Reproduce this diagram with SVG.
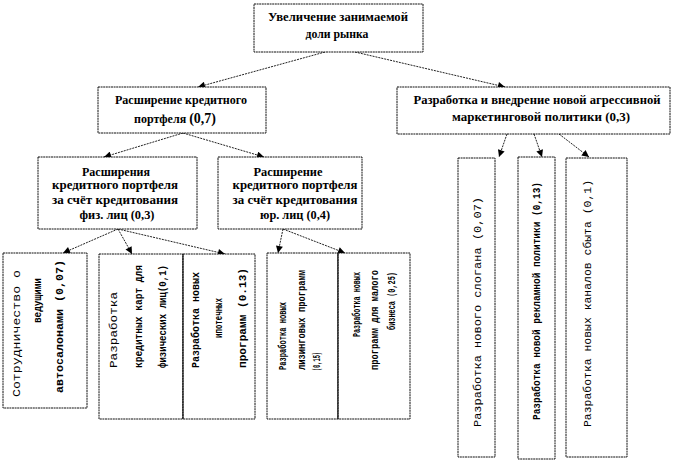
<svg xmlns="http://www.w3.org/2000/svg" width="678" height="461" viewBox="0 0 678 461">
<defs>
<marker id="arr" viewBox="0 0 10 10" refX="10" refY="5" markerWidth="8" markerHeight="7" markerUnits="userSpaceOnUse" orient="auto">
<path d="M0,0 L10,5 L0,10 z" fill="#000"/>
</marker>
</defs>
<style>
.box{fill:#fff;stroke:#111;stroke-width:1;stroke-dasharray:2 0.6}
.div{stroke:#111;stroke-width:1}
.hd{font-family:"Liberation Serif","Times New Roman",serif;font-weight:bold;font-size:12px;fill:#000;text-anchor:middle}
.mn{font-family:"Liberation Mono","Courier New",monospace;font-size:11px;fill:#000}
.con{stroke:#222;stroke-width:1;stroke-dasharray:2 1;fill:none;marker-end:url(#arr)}
</style>
<rect width="678" height="461" fill="#fff"/>

<g id="connectors">
<line class="con" x1="325" y1="52" x2="198" y2="87"/>
<line class="con" x1="355" y1="52" x2="505" y2="87"/>
<line class="con" x1="183" y1="133" x2="104" y2="157"/>
<line class="con" x1="183" y1="133" x2="264" y2="157"/>
<line class="con" x1="118" y1="229" x2="63" y2="253"/>
<line class="con" x1="118" y1="229" x2="132" y2="254"/>
<line class="con" x1="118" y1="229" x2="225" y2="254"/>
<line class="con" x1="283" y1="229" x2="278" y2="253"/>
<line class="con" x1="283" y1="229" x2="345" y2="253"/>
<line class="con" x1="507" y1="134" x2="499" y2="157"/>
<line class="con" x1="534" y1="134" x2="542" y2="157"/>
<line class="con" x1="559" y1="134" x2="589" y2="157"/>
</g>

<g id="n-top">
<rect class="box" x="254" y="4" width="169" height="48"/>
<text class="hd" x="338" y="21" textLength="140" lengthAdjust="spacingAndGlyphs">Увеличение занимаемой</text>
<text class="hd" x="337" y="38" textLength="63" lengthAdjust="spacingAndGlyphs">доли рынка</text>
</g>

<g id="n-credit">
<rect class="box" x="98" y="87" width="168" height="46"/>
<text class="hd" x="181" y="104" textLength="132" lengthAdjust="spacingAndGlyphs">Расширение кредитного</text>
<text class="hd" x="175" y="123">портфеля <tspan font-size="14">(0,7)</tspan></text>
</g>

<g id="n-marketing">
<rect class="box" x="397" y="87" width="273" height="47"/>
<text class="hd" x="537" y="104" textLength="247" lengthAdjust="spacingAndGlyphs">Разработка и внедрение новой агрессивной</text>
<text class="hd" x="541" y="121" textLength="178" lengthAdjust="spacingAndGlyphs">маркетинговой политики  (0,3)</text>
</g>

<g id="n-phys">
<rect class="box" x="38" y="157" width="159" height="72"/>
<text class="hd" x="116" y="176" textLength="68" lengthAdjust="spacingAndGlyphs">Расширения</text>
<text class="hd" x="115" y="189" textLength="126" lengthAdjust="spacingAndGlyphs">кредитного портфеля</text>
<text class="hd" x="115" y="204" textLength="126" lengthAdjust="spacingAndGlyphs">за счёт кредитования</text>
<text class="hd" x="117" y="219" textLength="75" lengthAdjust="spacingAndGlyphs">физ. лиц (0,3)</text>
</g>

<g id="n-jur">
<rect class="box" x="218" y="157" width="144" height="72"/>
<text class="hd" x="288" y="176" textLength="69" lengthAdjust="spacingAndGlyphs">Расширение</text>
<text class="hd" x="295" y="189" textLength="125" lengthAdjust="spacingAndGlyphs">кредитного портфеля</text>
<text class="hd" x="295" y="204" textLength="125" lengthAdjust="spacingAndGlyphs">за счёт кредитования</text>
<text class="hd" x="295" y="219" textLength="70" lengthAdjust="spacingAndGlyphs">юр. лиц (0,4)</text>
</g>

<g id="n-auto">
<rect class="box" x="3" y="253" width="84" height="155"/>
<text class="mn" font-size="13" transform="translate(20,397) rotate(-90)" textLength="127" lengthAdjust="spacingAndGlyphs">Сотрудничество о</text>
<text class="mn" font-weight="bold" transform="translate(41,323) rotate(-90)" textLength="45" lengthAdjust="spacingAndGlyphs">ведущими</text>
<text class="mn" font-weight="bold" transform="translate(63,393) rotate(-90)" textLength="133" lengthAdjust="spacingAndGlyphs">автосалонами  (0,07)</text>
</g>

<g id="n-cards">
<rect class="box" x="99" y="254" width="84" height="165"/>
<text class="mn" font-size="12" transform="translate(117,368) rotate(-90)" textLength="76" lengthAdjust="spacingAndGlyphs">Разработка</text>
<text class="mn" font-weight="bold" transform="translate(142,368) rotate(-90)" textLength="103" lengthAdjust="spacingAndGlyphs">кредитных карт для</text>
<text class="mn" font-weight="bold" transform="translate(166,368) rotate(-90)" textLength="103" lengthAdjust="spacingAndGlyphs">физических лиц(0,1)</text>
</g>

<g id="n-mortgage">
<rect class="box" x="183" y="254" width="72" height="165"/>
<line class="div" x1="183" y1="254" x2="183" y2="419"/>
<text class="mn" font-weight="bold" transform="translate(199,368) rotate(-90)" textLength="96" lengthAdjust="spacingAndGlyphs">Разработка новых</text>
<text class="mn" font-weight="bold" transform="translate(222,338) rotate(-90)" textLength="40" lengthAdjust="spacingAndGlyphs">ипотечных</text>
<text class="mn" font-weight="bold" transform="translate(246,368) rotate(-90)" textLength="100" lengthAdjust="spacingAndGlyphs">программ (0.13)</text>
</g>

<g id="n-leasing">
<rect class="box" x="267" y="253" width="71" height="166"/>
<text class="mn" font-size="8" font-weight="bold" transform="translate(286,370) rotate(-90)" textLength="68" lengthAdjust="spacingAndGlyphs">Разработка новых</text>
<text class="mn" font-size="8" font-weight="bold" transform="translate(305,370) rotate(-90)" textLength="100" lengthAdjust="spacingAndGlyphs">лизинговых программ</text>
<text class="mn" font-size="9" font-weight="bold" transform="translate(320,371) rotate(-90)" textLength="19" lengthAdjust="spacingAndGlyphs">(0,15)</text>
</g>

<g id="n-smallbiz">
<rect class="box" x="338" y="253" width="72" height="166"/>
<line class="div" x1="338" y1="253" x2="338" y2="419"/>
<text class="mn" font-size="8" font-weight="bold" transform="translate(360,337) rotate(-90)" textLength="65" lengthAdjust="spacingAndGlyphs">Разработка новых</text>
<text class="mn" font-size="8" font-weight="bold" transform="translate(378,370) rotate(-90)" textLength="100" lengthAdjust="spacingAndGlyphs">программ для малого</text>
<text class="mn" font-size="8" font-weight="bold" transform="translate(395,330) rotate(-90)" textLength="58" lengthAdjust="spacingAndGlyphs">бизнеса (0,25)</text>
</g>

<g id="n-slogan">
<rect class="box" x="458" y="158" width="37" height="299"/>
<text class="mn" font-size="12" transform="translate(481,427) rotate(-90)" textLength="230" lengthAdjust="spacingAndGlyphs">Разработка нового слогана (0,07)</text>
</g>

<g id="n-ads">
<rect class="box" x="518" y="157" width="37" height="302"/>
<text class="mn" font-size="10" font-weight="bold" transform="translate(540,420) rotate(-90)" textLength="238" lengthAdjust="spacingAndGlyphs">Разработка новой рекламной политики (0,13)</text>
</g>

<g id="n-channels">
<rect class="box" x="566" y="158" width="61" height="299"/>
<text class="mn" font-size="11.5" transform="translate(591,427) rotate(-90)" textLength="247" lengthAdjust="spacingAndGlyphs">Разработка новых каналов сбыта (0,1)</text>
</g>
</svg>
